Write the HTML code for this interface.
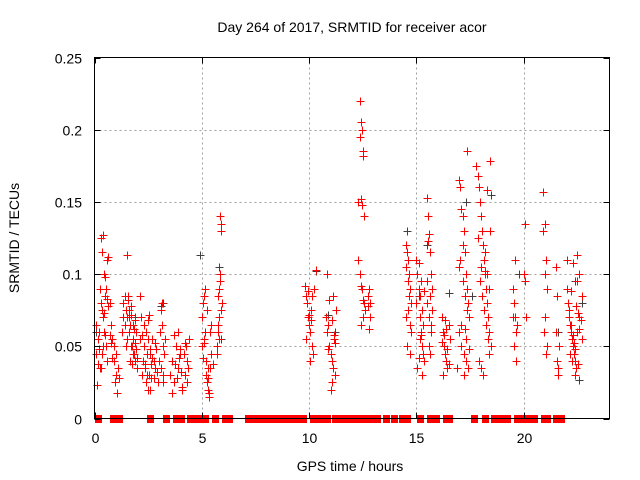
<!DOCTYPE html>
<html><head><meta charset="utf-8"><style>
html,body{margin:0;padding:0;background:#fff;}
svg{display:block;font-family:"Liberation Sans",sans-serif;}
</style></head><body>
<svg id="chart" width="640" height="480" viewBox="0 0 640 480"></svg>
<script>
const xTicks=[0,5,10,15,20];
const yTicks=[0,0.05,0.1,0.15,0.2,0.25];
const yTickLabels=["0","0.05","0.1","0.15","0.2","0.25"];
const redX=[0.05,0.05,0.1,0.15,0.2,0.25,0.3,0.35,0.4,0.45,0.5,0.3,0.35,0.4,0.45,0.5,0.55,0.6,0.4,0.6,0.65,0.7,0.75,0.8,0.55,0.5,0.45,0.35,0.3,0.7,0.25,0.2,0.15,0.6,0.65,0.75,0.8,
0.9,0.95,1.0,1.05,1.0,0.9,1.1,1.15,
1.3,1.35,1.4,1.45,1.5,1.55,1.6,1.65,1.7,1.75,1.8,1.85,1.9,1.95,2.0,1.4,1.5,1.6,1.7,1.8,1.9,2.0,2.1,1.35,1.45,1.55,1.65,1.75,1.85,1.95,1.5,1.6,1.7,1.8,1.9,
2.2,2.25,2.3,2.35,2.4,2.45,2.5,2.55,2.6,2.65,2.7,2.75,2.8,2.85,2.9,2.95,2.3,2.4,2.5,2.6,2.7,2.8,2.2,2.35,2.45,2.55,2.65,2.75,2.5,2.6,2.1,2.15,
3.05,3.1,3.15,3.2,3.25,3.1,3.2,3.0,3.15,3.3,3.2,
3.5,3.6,3.7,3.8,3.9,4.0,4.1,4.2,4.3,4.4,3.6,3.75,3.85,3.95,4.05,4.15,4.25,4.35,3.7,3.9,4.1,4.3,4.0,4.2,
5.0,5.05,5.1,5.15,5.2,5.25,5.3,5.35,5.4,5.45,5.5,5.1,5.2,5.3,5.4,5.0,5.15,5.25,5.35,5.45,5.1,5.3,5.05,
5.7,5.75,5.8,5.85,5.9,5.95,5.75,5.8,5.85,5.9,5.7,5.8,5.9,5.75,5.85,
9.8,9.85,9.9,9.95,10.0,10.05,10.1,10.15,10.2,9.85,9.95,10.05,10.15,10.0,10.1,10.3,10.25,
10.8,10.85,10.9,10.95,11.0,11.05,11.1,11.15,11.2,11.25,10.85,10.95,11.05,11.15,11.0,11.1,11.2,10.9,11.05,
12.3,12.35,12.4,12.45,12.5,12.35,12.4,12.45,12.5,12.55,12.35,12.4,12.45,12.5,12.55,12.6,12.3,12.4,12.5,
12.75,12.8,12.85,12.8,12.75,12.85,
14.5,14.55,14.6,14.65,14.7,14.75,14.5,14.6,14.7,14.55,14.65,14.75,14.6,14.7,14.5,
15.0,15.05,15.1,15.15,15.2,15.25,15.3,15.35,15.05,15.15,15.25,15.1,15.2,15.3,15.0,15.15,15.25,15.1,15.2,15.35,
15.5,15.55,15.6,15.65,15.7,15.75,15.5,15.6,15.7,15.55,15.65,15.75,15.6,15.7,15.5,15.65,
16.2,16.25,16.3,16.35,16.4,16.45,16.5,16.55,16.25,16.35,16.45,16.3,16.4,16.5,16.2,
16.9,17.0,17.05,17.1,17.15,17.2,17.25,17.3,17.35,17.4,17.45,17.0,17.1,17.2,17.3,17.4,17.05,17.15,17.25,17.35,17.1,17.2,17.3,17.0,17.15,17.25,17.45,17.35,
17.8,17.85,17.9,17.95,18.0,18.05,18.1,18.15,18.2,18.25,18.3,18.35,18.4,18.45,18.5,17.9,18.0,18.1,18.2,18.3,18.4,17.85,17.95,18.05,18.15,18.25,18.35,18.45,18.0,18.2,18.4,18.3,
19.5,19.55,19.6,19.65,19.7,19.55,19.65,19.6,20.0,20.05,20.1,20.05,19.5,
20.9,21.0,21.05,21.1,20.95,21.05,21.0,21.1,20.9,21.0,
21.5,21.55,21.6,21.65,21.55,21.6,21.5,
22.0,22.05,22.1,22.15,22.2,22.25,22.3,22.35,22.4,22.45,22.5,22.55,22.6,22.65,22.7,22.1,22.2,22.3,22.4,22.5,22.6,22.0,22.15,22.25,22.35,22.45,22.55,22.2,22.4,22.6,22.3,22.5,22.7,22.65];
const redY=[0.065,0.045,0.023,0.055,0.06,0.035,0.125,0.115,0.127,0.1,0.085,0.08,0.075,0.07,0.06,0.058,0.05,0.04,0.05,0.11,0.112,0.08,0.065,0.055,0.09,0.098,0.073,0.045,0.035,0.058,0.09,0.048,0.038,0.083,0.078,0.052,0.042,
0.04,0.025,0.03,0.018,0.045,0.05,0.035,0.028,
0.06,0.08,0.085,0.075,0.113,0.082,0.07,0.065,0.078,0.05,0.055,0.045,0.04,0.06,0.035,0.065,0.07,0.06,0.05,0.045,0.052,0.042,0.055,0.07,0.05,0.085,0.04,0.038,0.062,0.048,0.055,0.075,0.072,0.065,0.068,
0.03,0.04,0.05,0.035,0.025,0.045,0.055,0.03,0.02,0.038,0.042,0.028,0.035,0.048,0.032,0.025,0.065,0.06,0.02,0.045,0.055,0.052,0.058,0.038,0.03,0.072,0.028,0.04,0.068,0.048,0.085,0.07,
0.06,0.075,0.08,0.05,0.045,0.035,0.03,0.04,0.065,0.055,0.025,
0.03,0.04,0.025,0.05,0.035,0.045,0.02,0.03,0.04,0.055,0.018,0.038,0.028,0.042,0.032,0.045,0.05,0.035,0.058,0.06,0.022,0.025,0.048,0.052,
0.07,0.08,0.085,0.06,0.04,0.025,0.02,0.015,0.035,0.045,0.038,0.055,0.03,0.028,0.06,0.05,0.09,0.075,0.018,0.065,0.052,0.035,0.042,
0.05,0.06,0.09,0.14,0.135,0.08,0.065,0.07,0.1,0.13,0.045,0.055,0.075,0.085,0.095,
0.092,0.085,0.08,0.07,0.065,0.06,0.075,0.05,0.045,0.055,0.088,0.04,0.085,0.072,0.068,0.103,0.09,
0.07,0.06,0.065,0.05,0.045,0.04,0.035,0.055,0.03,0.075,0.1,0.082,0.025,0.058,0.02,0.085,0.052,0.048,0.068,
0.15,0.22,0.205,0.2,0.185,0.195,0.152,0.148,0.182,0.14,0.1,0.092,0.09,0.07,0.08,0.075,0.11,0.065,0.082,
0.085,0.09,0.08,0.062,0.078,0.07,
0.12,0.115,0.11,0.1,0.09,0.08,0.07,0.075,0.065,0.05,0.085,0.06,0.095,0.045,0.105,
0.11,0.1,0.09,0.07,0.06,0.05,0.045,0.04,0.035,0.085,0.075,0.108,0.095,0.065,0.08,0.055,0.03,0.042,0.058,0.088,
0.153,0.14,0.128,0.115,0.1,0.09,0.08,0.07,0.06,0.123,0.085,0.075,0.05,0.065,0.095,0.045,
0.07,0.06,0.05,0.045,0.04,0.035,0.065,0.055,0.03,0.068,0.048,0.058,0.062,0.038,0.053,
0.035,0.165,0.16,0.145,0.14,0.13,0.115,0.1,0.09,0.08,0.07,0.06,0.05,0.045,0.04,0.035,0.11,0.095,0.085,0.075,0.065,0.03,0.055,0.105,0.12,0.062,0.048,
0.185,0.175,0.168,0.16,0.15,0.14,0.13,0.12,0.11,0.1,0.09,0.08,0.07,0.06,0.178,0.05,0.04,0.035,0.03,0.115,0.158,0.045,0.125,0.095,0.085,0.075,0.065,0.055,0.13,0.105,0.102,0.09,
0.1,0.09,0.08,0.07,0.06,0.065,0.05,0.04,0.11,0.1,0.095,0.07,0.135,
0.07,0.157,0.135,0.11,0.09,0.06,0.045,0.1,0.05,0.13,
0.07,0.06,0.04,0.03,0.05,0.085,0.035,
0.105,0.09,0.08,0.07,0.065,0.06,0.055,0.05,0.045,0.04,0.035,0.06,0.073,0.07,0.068,0.085,0.075,0.065,0.058,0.048,0.095,0.1,0.11,0.045,0.04,0.052,0.078,0.038,0.088,0.03,0.062,0.108,0.113,0.055];
const blackX=[0.05,0.6,1.9,3.1,3.2,4.9,5.8,5.9,10.3,10.9,11.2,12.4,14.55,15.1,15.5,16.5,17.1,17.3,17.6,18.1,18.3,18.5,19.8,21.6,22.4,22.6,22.7];
const blackY=[0.06,0.04,0.07,0.078,0.08,0.113,0.105,0.055,0.102,0.072,0.06,0.152,0.13,0.085,0.12,0.087,0.145,0.15,0.085,0.03,0.1,0.155,0.1,0.06,0.095,0.027,0.08];
const zeroX=[0.15,0.86,1.14,2.57,3.32,3.79,4.05,4.44,4.6,4.83,5.14,5.61,6.07,6.28,7.17,7.4,7.63,7.87,8.1,8.33,8.49,8.72,8.88,9.11,9.35,9.55,9.73,10.2,10.4,10.6,10.83,11.2,11.45,11.76,11.95,12.15,12.46,12.65,12.85,13.0,13.08,13.16,13.6,13.97,14.33,14.57,15.19,15.65,15.78,15.93,16.36,16.51,17.68,18.22,18.61,18.85,19.0,19.24,19.7,19.9,20.1,20.33,20.48,20.95,21.1,21.5,21.73];

const NS="http://www.w3.org/2000/svg";
const svg=document.getElementById('chart');
const L=94.5,R=609.5,T=57.5,B=418.5;
const xs=v=>L+(v/24)*(R-L);
const ys=v=>B-(v/0.25)*(B-T);
function mk(tag,attrs,parent){const e=document.createElementNS(NS,tag);for(const k in attrs)e.setAttribute(k,attrs[k]);(parent||svg).appendChild(e);return e;}

const grid=mk('g',{});


xTicks.forEach(t=>{if(t>0){const g=mk('line',{x1:Math.round(xs(t))+0.5,x2:Math.round(xs(t))+0.5,y1:T,y2:B,stroke:'#a0a0a0','stroke-dasharray':'2,3','stroke-width':1},grid);

}});
yTicks.forEach(t=>{if(t>0&&t<0.25){const g=mk('line',{x1:L,x2:R,y1:Math.round(ys(t))+0.5,y2:Math.round(ys(t))+0.5,stroke:'#a0a0a0','stroke-dasharray':'2,3','stroke-width':1},grid);

}});

function plus(x,y,color,parent,name){const cx=Math.round(xs(x))+0.5,cy=Math.round(ys(y))+0.5;
const p=mk('path',{d:`M${cx-4} ${cy}H${cx+4}M${cx} ${cy-4}V${cy+4}`,stroke:color,'stroke-width':1,fill:'none'},parent);

}

const sb=mk('g',{});


blackX.forEach((x,i)=>plus(x,blackY[i],'#404040',sb,'black-point'));
const sr=mk('g',{});


redX.forEach((x,i)=>plus(x,redY[i],'#ff0000',sr,'red-point'));
const sz=mk('g',{});


zeroX.forEach(x=>{const cx=Math.round(xs(x));const r=mk('rect',{x:cx-3,y:415,width:7,height:8,fill:'#ff0000'},sz);

});

const frame=mk('rect',{x:L,y:T,width:R-L,height:B-T,fill:'none',stroke:'#000','stroke-width':1});



const ax=mk('g',{});


xTicks.forEach(t=>{const X=Math.round(xs(t))+0.5;
mk('line',{x1:X,x2:X,y1:B,y2:B-6,stroke:'#000'},ax);mk('line',{x1:X,x2:X,y1:T,y2:T+6,stroke:'#000'},ax);
const tx=mk('text',{x:X,y:443,'text-anchor':'middle','font-size':14,fill:'#000'},ax);tx.textContent=String(t);

});
const ay=mk('g',{});


yTicks.forEach((t,i)=>{const Y=Math.round(ys(t))+0.5;
mk('line',{x1:L,x2:L+6,y1:Y,y2:Y,stroke:'#000'},ay);mk('line',{x1:R,x2:R-6,y1:Y,y2:Y,stroke:'#000'},ay);
const tx=mk('text',{x:82,y:Y+5,'text-anchor':'end','font-size':14,fill:'#000'},ay);tx.textContent=yTickLabels[i];

});

const title=mk('text',{x:352,y:32,'text-anchor':'middle','font-size':14,fill:'#000'});title.textContent='Day 264 of 2017, SRMTID for receiver acor';


const xt=mk('text',{x:350,y:471,'text-anchor':'middle','font-size':14,fill:'#000'});xt.textContent='GPS time / hours';


const yt=mk('text',{x:0,y:0,'text-anchor':'middle','font-size':14,fill:'#000',transform:'translate(19,238) rotate(-90)'});yt.textContent='SRMTID / TECUs';


</script>
</body></html>
